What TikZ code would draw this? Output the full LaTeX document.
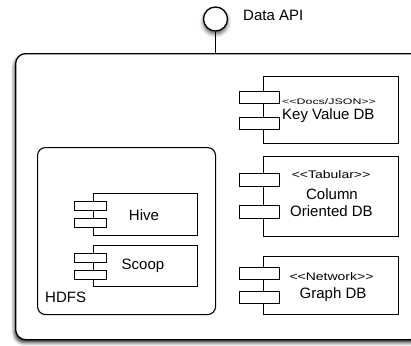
\documentclass[tikz,border=0pt]{standalone}
\usepackage{fontspec}
\setmainfont{Liberation Sans}[Ligatures=TeXOff]
\usetikzlibrary{shadows.blur}
\newcommand{\mainsz}{\fontsize{15}{17}\selectfont}
\newcommand{\stsz}{\fontsize{11}{13}\selectfont}
\begin{document}
\begin{tikzpicture}[x=1pt,y=-1pt,
  box/.style={draw, line width=1.1pt, fill=white, inner sep=0pt, anchor=north west},
  tab/.style={draw, line width=1.1pt, fill=white, inner sep=0pt, anchor=north west},
  lbl/.style={inner sep=0pt, font=\mainsz},
  outerbox/.style={draw, line width=1.3pt, fill=white, rounded corners=10pt, inner sep=0pt, anchor=north west,
    blur shadow={shadow xshift=-1pt, shadow yshift=-3pt, shadow blur radius=3.5pt, shadow opacity=85}},
  pkg/.style={draw, line width=1.1pt, rounded corners=8pt, inner sep=0pt, anchor=north west}]
\useasboundingbox (0,0) rectangle (411,345);
\clip (0,0) rectangle (411,345);
% interface
\node[circle, draw, line width=1.3pt, fill=white, minimum size=24pt, inner sep=0pt,
  blur shadow={shadow xshift=0pt, shadow yshift=-3pt, shadow blur radius=4pt, shadow opacity=70}] (api) at (215.5,19) {};
\node[lbl, anchor=west] (apilbl) at (243,15) {Data API};
% outer component
\node[outerbox, minimum width=405pt, minimum height=286pt] (outer) at (15,53) {};
\draw[line width=1.3pt] (api.south) -- (api.south |- outer.north);
% HDFS package
\node[pkg, minimum width=178pt, minimum height=167pt] (hdfs) at (37,147) {};
\node[lbl, anchor=west] (hdfslbl) at (45,297.5) {HDFS};
% Hive
\node[box, minimum width=104pt, minimum height=42pt] (hive) at (93,193) {};
\node[tab, minimum width=32pt, minimum height=8.5pt] (hivet1) at (74,201) {};
\node[tab, minimum width=32pt, minimum height=8.5pt] (hivet2) at (74,218) {};
\node[lbl] (hivelbl) at (144,215) {Hive};
% Scoop
\node[box, minimum width=104pt, minimum height=41pt] (scoop) at (93,245) {};
\node[tab, minimum width=32pt, minimum height=8.5pt] (scoopt1) at (74,253) {};
\node[tab, minimum width=32pt, minimum height=8.5pt] (scoopt2) at (74,270) {};
\node[lbl] (scooplbl) at (143,266) {Scoop};
% Key Value DB
\node[box, minimum width=135pt, minimum height=67pt] (kv) at (263,76) {};
\node[tab, minimum width=40pt, minimum height=12pt] (kvt1) at (239,91) {};
\node[tab, minimum width=40pt, minimum height=12pt] (kvt2) at (239,117) {};
\node[inner sep=0pt, anchor=west] (kvst) at (282,102) {\scalebox{1.55}[1]{\fontsize{8}{9}\selectfont <<Docs/JSON>>}};
\node[lbl, anchor=west] (kvlbl) at (282,116) {Key Value DB};
% Column Oriented DB
\node[box, minimum width=135pt, minimum height=80pt] (col) at (263,156) {};
\node[tab, minimum width=40pt, minimum height=13pt] (colt1) at (239,173) {};
\node[tab, minimum width=40pt, minimum height=13pt] (colt2) at (239,205) {};
\node[inner sep=0pt] (colst) at (331,175) {\scalebox{1.27}[1]{\stsz <<Tabular>>}};
\node[lbl] (collbl1) at (332,194) {Column};
\node[lbl] (collbl2) at (331.5,211) {Oriented DB};
% Graph DB
\node[box, minimum width=135pt, minimum height=58pt] (graph) at (263,256) {};
\node[tab, minimum width=40pt, minimum height=11.5pt] (grt1) at (239,267) {};
\node[tab, minimum width=40pt, minimum height=11.5pt] (grt2) at (239,291) {};
\node[inner sep=0pt] (grst) at (331.5,277) {\scalebox{1.27}[1]{\stsz <<Network>>}};
\node[lbl] (grlbl) at (333,295) {Graph DB};
\end{tikzpicture}
\end{document}
